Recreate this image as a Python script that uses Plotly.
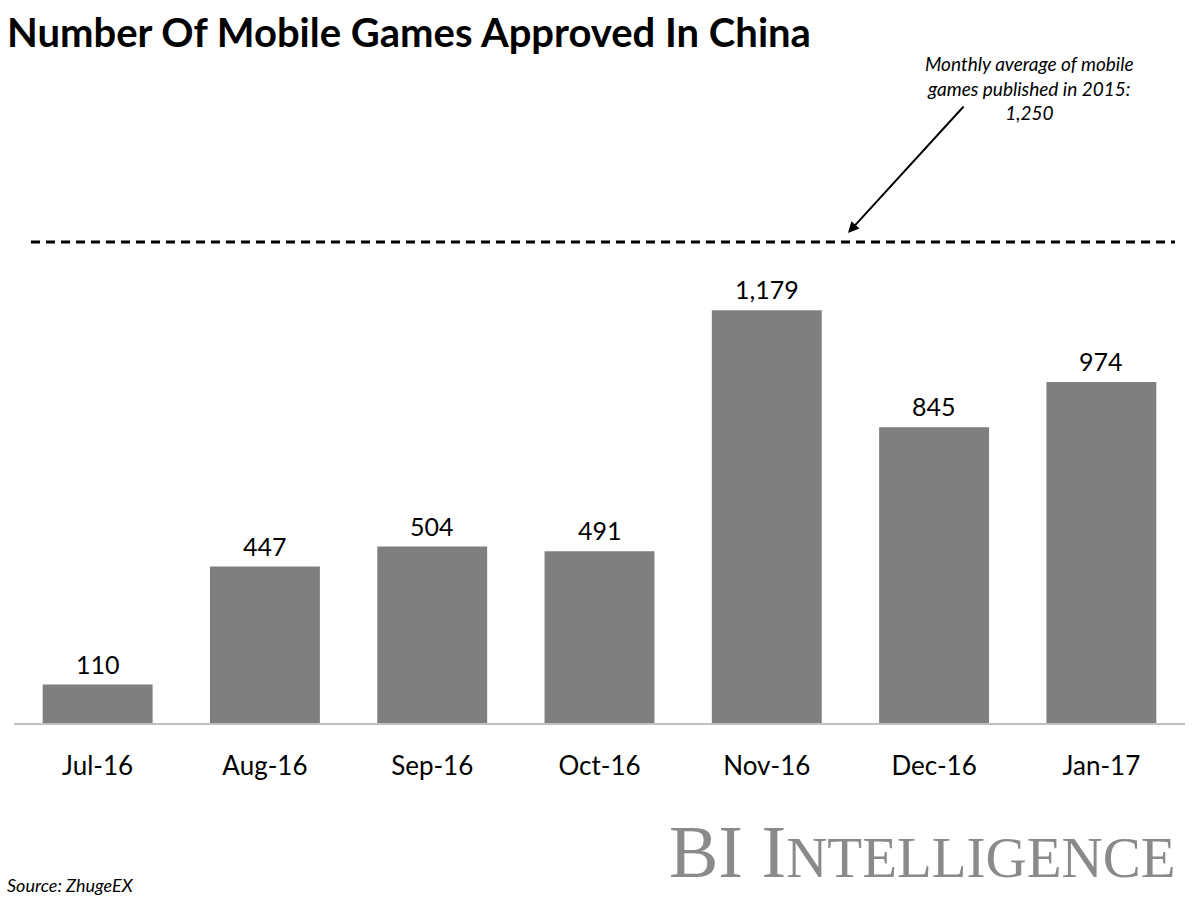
import plotly.graph_objects as go

months = ["Jul-16", "Aug-16", "Sep-16", "Oct-16", "Nov-16", "Dec-16", "Jan-17"]
approved = [110, 447, 504, 491, 1179, 845, 974]
avg_2015 = 1250

W, H = 1200, 900
ml, mr, mt, mb = 14, 15, 233, 177
y_max = 1400
PW = W - ml - mr
PH = H - mt - mb
BASE = H - mb  # pixel row of baseline


def px_x(p):
    return (p - ml) / PW


def px_y(p):
    return (BASE - p) / PH


FONT = "Lato, Open Sans, sans-serif"

fig = go.Figure()
fig.add_trace(go.Bar(
    x=months, y=approved,
    marker=dict(color="#7f7f7f", line=dict(width=0)),
    hoverinfo="skip",
))

for m, v in zip(months, approved):
    fig.add_annotation(
        x=m, y=v, xref="x", yref="y", text=f"{v:,}", showarrow=False,
        yanchor="bottom", yshift=4,
        font=dict(family=FONT, size=25, color="#000000"),
    )

# dashed reference line (placed where the original draws it)
fig.add_shape(type="line", xref="paper", yref="paper",
              x0=px_x(31), x1=px_x(1175), y0=px_y(242), y1=px_y(242),
              line=dict(color="#000000", width=3, dash="9px,6px"))

# arrow
fig.add_annotation(
    xref="paper", yref="paper", x=px_x(848), y=px_y(233),
    ax=965 - 848, ay=105 - 233,
    text="", showarrow=True, arrowhead=2, arrowsize=1.1, arrowwidth=2, arrowcolor="#000000",
)

fig.add_annotation(
    xref="paper", yref="paper", x=px_x(1029), y=px_y(50),
    yanchor="top", xanchor="center", showarrow=False, align="center",
    text=f"<i>Monthly average of mobile<br>games published in 2015:<br>{avg_2015:,}</i>",
    font=dict(family=FONT, size=19, color="#000000"),
)

fig.update_layout(
    width=W, height=H,
    margin=dict(l=ml, r=mr, t=mt, b=mb),
    paper_bgcolor="white", plot_bgcolor="white",
    showlegend=False,
    bargap=0.343,
    title=dict(
        text="<b>Number Of Mobile Games Approved In China</b>",
        x=7 / W, xanchor="left", xref="container", y=1 - 33 / H, yanchor="middle", yref="container",
        font=dict(family=FONT, size=40, color="#000000"),
    ),
    xaxis=dict(
        showgrid=False, showline=True, linecolor="#c0c0c0", linewidth=2,
        ticks="outside", ticklen=19, tickcolor="rgba(0,0,0,0)",
        tickfont=dict(family=FONT, size=26, color="#000000"),
        fixedrange=True,
    ),
    yaxis=dict(
        range=[0, y_max], visible=False, showgrid=False, zeroline=False, fixedrange=True,
    ),
)

# Source and branding
fig.add_annotation(
    xref="paper", yref="paper", x=px_x(5), y=px_y(885),
    xanchor="left", yanchor="middle", showarrow=False, text="<i>Source: ZhugeEX</i>",
    font=dict(family=FONT, size=18, color="#000000"),
)
fig.add_annotation(
    xref="paper", yref="paper", x=px_x(1178), y=px_y(852),
    xanchor="right", yanchor="middle", showarrow=False,
    text="<span style='font-size:74px'>BI I</span>NTELLIGENCE",
    font=dict(family="Liberation Serif, DejaVu Serif, serif", size=57, color="#8a8a8a"),
)

fig.write_html("out.html", config={"displayModeBar": False},
               post_script="document.body.style.margin='0';document.body.style.padding='0';")
